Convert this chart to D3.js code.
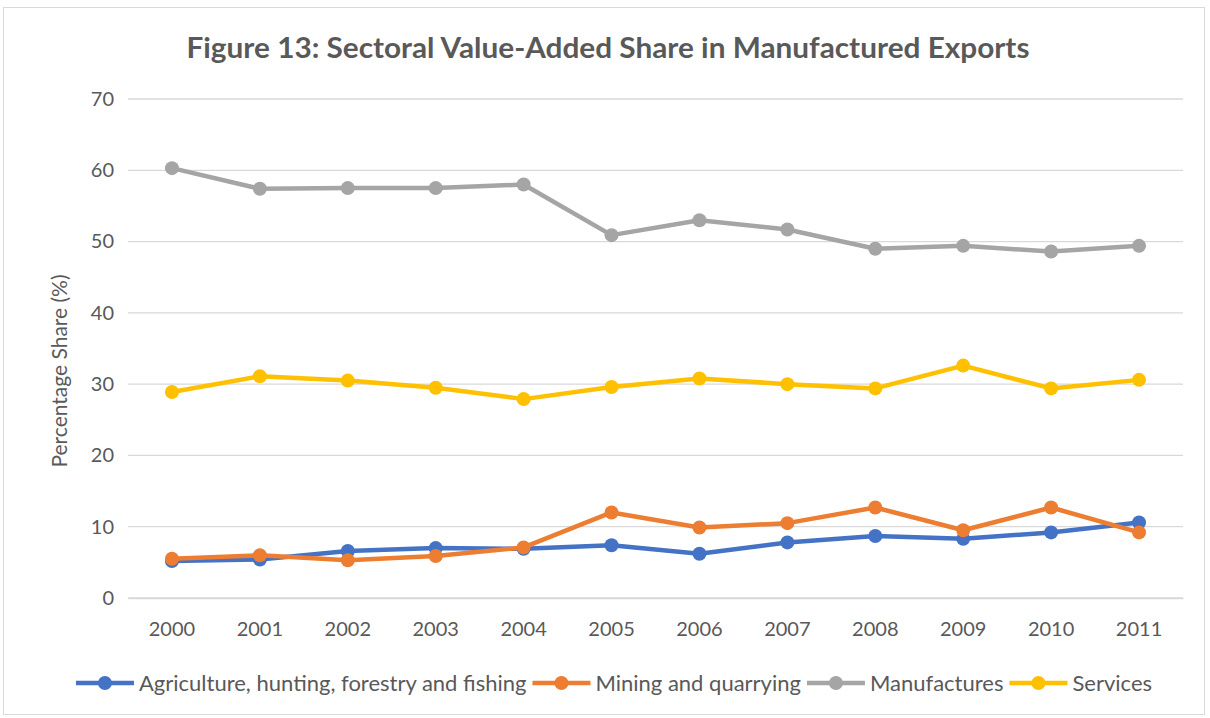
<!DOCTYPE html>
<html>
<head>
<meta charset="utf-8">
<script src="https://cdn.jsdelivr.net/npm/d3@7"></script>
<style>
  body { margin: 0; background: #fff; }
  svg { font-family: Lato, "Open Sans", sans-serif; }
</style>
</head>
<body>
<svg id="grafico" width="1210" height="718"></svg>
<script>
// Dados
let anos = ["2000", "2001", "2002", "2003", "2004", "2005", "2006", "2007", "2008", "2009", "2010", "2011"];
let agricultura = [5.2, 5.4, 6.6, 7.0, 6.9, 7.4, 6.2, 7.8, 8.7, 8.3, 9.2, 10.6];
let mineracao = [5.5, 6.0, 5.3, 5.9, 7.1, 12.0, 9.9, 10.5, 12.7, 9.5, 12.7, 9.2];
let manufaturas = [60.3, 57.4, 57.5, 57.5, 58.0, 50.9, 53.0, 51.7, 49.0, 49.4, 48.6, 49.4];
let servicos = [28.9, 31.1, 30.5, 29.5, 27.9, 29.6, 30.8, 30.0, 29.4, 32.6, 29.4, 30.6];
let ticksY = [0, 10, 20, 30, 40, 50, 60, 70];

let series = [
  { nome: "Agriculture, hunting, forestry and fishing", valores: agricultura, cor: "#4472C4" },
  { nome: "Mining and quarrying", valores: mineracao, cor: "#ED7D31" },
  { nome: "Manufactures", valores: manufaturas, cor: "#A5A5A5" },
  { nome: "Services", valores: servicos, cor: "#FFC000" }
];

let svg = d3.select("#grafico");
let margem = { esq: 128, dir: 1183, topo: 99, base: 598 };
let corTexto = "#595959";

// moldura
svg.append("rect")
  .attr("x", 3.5).attr("y", 7.5)
  .attr("width", 1201).attr("height", 707)
  .attr("fill", "#fff").attr("stroke", "#d9d9d9");

// título
svg.append("text")
  .attr("x", 608).attr("y", 58)
  .attr("text-anchor", "middle")
  .attr("font-size", 28).attr("font-weight", "bold")
  .attr("fill", corTexto)
  .attr("textLength", 843).attr("lengthAdjust", "spacingAndGlyphs")
  .text("Figure 13: Sectoral Value-Added Share in Manufactured Exports");

let fnX = d3.scaleBand().domain(anos).range([margem.esq, margem.dir]);
let fnY = d3.scaleLinear().domain([0, 70]).range([margem.base, margem.topo]);

// grade
svg.selectAll(".grade")
  .data(ticksY)
  .enter()
  .append("line")
  .classed("grade", true)
  .attr("x1", margem.esq).attr("x2", margem.dir)
  .attr("y1", d => fnY(d)).attr("y2", d => fnY(d))
  .attr("stroke", "#d9d9d9").attr("stroke-width", 1.3);

// eixo Y
let eixoY = svg.append("g")
  .attr("transform", `translate(${margem.esq},0)`)
  .call(d3.axisLeft(fnY).tickValues(ticksY).tickSize(0).tickPadding(14));
eixoY.select(".domain").remove();
eixoY.selectAll("text")
  .attr("font-size", 20).attr("fill", corTexto)
  .attr("font-family", "Lato, 'Open Sans', sans-serif");

// eixo X
let eixoX = svg.append("g")
  .attr("transform", `translate(0,${margem.base})`)
  .call(d3.axisBottom(fnX).tickSize(0).tickPadding(24));
eixoX.select(".domain").attr("stroke", "#d9d9d9").attr("stroke-width", 1.3);
eixoX.selectAll("text")
  .attr("font-size", 20).attr("fill", corTexto)
  .attr("font-family", "Lato, 'Open Sans', sans-serif");

// rótulo Y
svg.append("text")
  .attr("transform", "translate(67,371) rotate(-90)")
  .attr("text-anchor", "middle")
  .attr("font-size", 21).attr("fill", corTexto)
  .text("Percentage Share (%)");

// linhas
let linha = d3.line()
  .x((d, i) => fnX(anos[i]) + fnX.bandwidth() / 2)
  .y(d => fnY(d));

let grupos = svg.selectAll(".serie")
  .data(series)
  .enter()
  .append("g")
  .classed("serie", true);

grupos.append("path")
  .attr("d", d => linha(d.valores))
  .attr("fill", "none")
  .attr("stroke", d => d.cor)
  .attr("stroke-width", 4.5)
  .attr("stroke-linejoin", "round");

grupos.selectAll("circle")
  .data(d => d.valores.map(v => ({ v: v, cor: d.cor })))
  .enter()
  .append("circle")
  .attr("cx", (d, i) => fnX(anos[i]) + fnX.bandwidth() / 2)
  .attr("cy", d => fnY(d.v))
  .attr("r", 7)
  .attr("fill", d => d.cor);

// legenda
let legenda = svg.append("g");
let xLeg = 0;
series.forEach(s => {
  let item = legenda.append("g").attr("transform", `translate(${xLeg},0)`);
  item.append("line")
    .attr("x1", 0).attr("x2", 58).attr("y1", 0).attr("y2", 0)
    .attr("stroke", s.cor).attr("stroke-width", 4.5);
  item.append("circle").attr("cx", 29).attr("cy", 0).attr("r", 7).attr("fill", s.cor);
  let t = item.append("text")
    .attr("x", 63).attr("y", 7.5)
    .attr("font-size", 22).attr("fill", corTexto)
    .text(s.nome);
  xLeg += 63 + t.node().getComputedTextLength() + 6;
});
let larguraLeg = xLeg - 6;
legenda.attr("transform", `translate(${(75 + 1153) / 2 - larguraLeg / 2},683)`);
</script>
</body>
</html>
